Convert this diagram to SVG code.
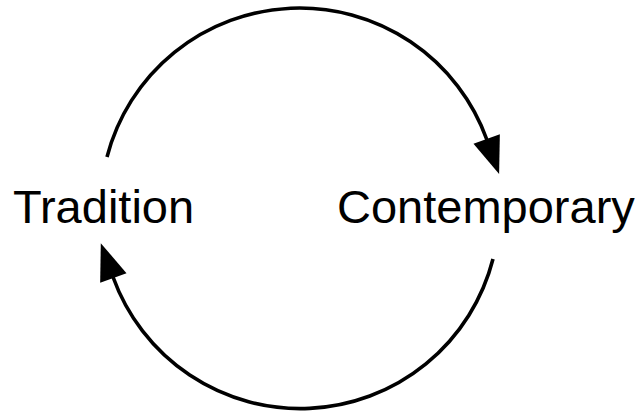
<svg xmlns="http://www.w3.org/2000/svg" width="643" height="412" viewBox="0 0 643 412">
<style>
.lbl{font-family:"Liberation Sans",Arial,sans-serif;font-size:47px;fill:#000}
.arc{fill:none;stroke:#000;stroke-width:3.6}
</style>
<defs>
<marker id="ah" markerUnits="userSpaceOnUse" markerWidth="40" markerHeight="30" viewBox="0 0 40 30" refX="1" refY="14" orient="auto" overflow="visible">
<path d="M0,0 L37,14 L0,28 z" fill="#000"/>
</marker>
</defs>
<rect width="643" height="412" fill="#fff"/>
<g id="connectors">
<path class="arc" d="M107,157 A199,199 0 0 1 487,140" marker-end="url(#ah)"/>
<path class="arc" d="M493,259 A199,199 0 0 1 113,277" marker-end="url(#ah)"/>
</g>
<g id="tradition"><text class="lbl" x="13" y="223">Tradition</text></g>
<g id="contemporary"><text class="lbl" x="337" y="223">Contemporary</text></g>
</svg>
